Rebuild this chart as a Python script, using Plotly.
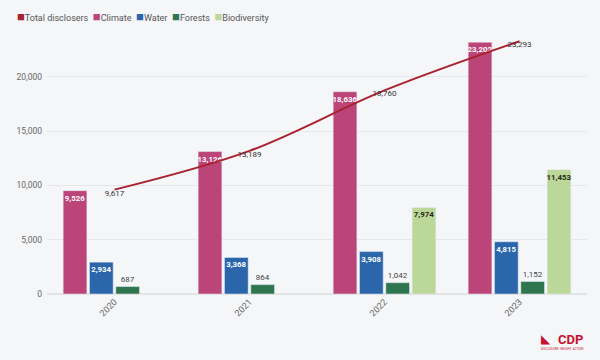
import plotly.graph_objects as go

years = ["2020", "2021", "2022", "2023"]
total_disclosers = [9617, 13189, 18760, 23293]
climate = [9526, 13126, 18636, 23202]
water = [2934, 3368, 3908, 4815]
forests = [687, 864, 1042, 1152]
biodiversity = [None, None, 7974, 11453]
legend_names = ["Total disclosers", "Climate", "Water", "Forests", "Biodiversity"]

C_TOTAL = "#a8232f"
C_CLIMATE = "#bb4479"
C_WATER = "#2b66ab"
C_FOREST = "#2f7650"
C_BIO = "#bcd79a"
BG = "#f5f6f8"
FONT = "Roboto"

def fmt(vals):
    return [f"{v:,}" if v is not None else "" for v in vals]

fig = go.Figure()

inside = dict(textposition="inside", insidetextanchor="end", textangle=0, constraintext="none")
fig.add_trace(go.Bar(x=years, y=climate, name="Climate", marker_color=C_CLIMATE,
                     text=fmt(climate), **inside,
                     textfont=dict(color="white", size=7.8, family=FONT, weight="bold")))
fig.add_trace(go.Bar(x=years, y=water, name="Water", marker_color=C_WATER,
                     text=fmt(water), **inside,
                     textfont=dict(color="white", size=7.8, family=FONT, weight="bold")))
fig.add_trace(go.Bar(x=years, y=forests, name="Forests", marker_color=C_FOREST,
                     text=fmt(forests), textposition="outside", cliponaxis=False, textangle=0,
                     constraintext="none",
                     textfont=dict(color="#444444", size=8, family=FONT)))
fig.add_trace(go.Bar(x=years, y=biodiversity, name="Biodiversity", marker_color=C_BIO,
                     text=fmt(biodiversity), **inside,
                     textfont=dict(color="#1f2a12", size=7.8, family=FONT, weight="bold")))

fig.add_trace(go.Scatter(x=years, y=total_disclosers, name="Total disclosers",
                         mode="lines+text", line=dict(color=C_TOTAL, width=2, shape="spline"),
                         text=fmt(total_disclosers), textposition="bottom center",
                         textfont=dict(color="#333333", size=8, family=FONT),
                         cliponaxis=False))

fig.update_layout(
    width=600, height=360,
    paper_bgcolor=BG, plot_bgcolor=BG,
    margin=dict(l=47, r=13, t=30, b=66),
    barmode="group", bargap=0.22, bargroupgap=0.1,
    font=dict(family=FONT, size=8, color="#666666"),
    showlegend=False,
    xaxis=dict(type="category", tickangle=-45, showgrid=False, showline=False, automargin=False,
               tickfont=dict(size=9, color="#666666"), ticks=""),
    yaxis=dict(range=[0, 24330], tickvals=[0, 5000, 10000, 15000, 20000], automargin=False,
               tickformat=",d", gridcolor="#e6e7ea", zeroline=True, zerolinecolor="#e2e3e6",
               showline=False, ticklabelstandoff=4, tickfont=dict(size=8.5, color="#666666")),
)

# plot area px x 47..587, y 30..294
def px(xp):
    return (xp - 47) / 540
def py(yp):
    return (294 - yp) / 264

# legend drawn as a single line of text with coloured squares
legend_colors = [C_TOTAL, C_CLIMATE, C_WATER, C_FOREST, C_BIO]
legend_html = "\u2002".join(
    f"<span style='color:{c};font-size:13px'>■</span><span style='color:#555555'>{n}</span>"
    for n, c in zip(legend_names, legend_colors))
fig.add_annotation(x=px(15), y=py(16), xref="paper", yref="paper",
                   xanchor="left", yanchor="middle", text=legend_html, showarrow=False,
                   font=dict(size=9, family=FONT))

# CDP logo text
fig.add_annotation(x=px(585), y=py(339), xref="paper", yref="paper",
                   xanchor="right", yanchor="middle", text="<b>CDP</b>", showarrow=False,
                   font=dict(size=13, color="#c8102e", family=FONT))
fig.add_annotation(x=px(553), y=py(339), xref="paper", yref="paper",
                   xanchor="right", yanchor="middle", text="<b>◣</b>", showarrow=False,
                   font=dict(size=12, color="#c8102e", family="DejaVu Sans"))
fig.add_annotation(x=px(585), y=py(349), xref="paper", yref="paper",
                   xanchor="right", yanchor="middle", text="DISCLOSURE  INSIGHT  ACTION", showarrow=False,
                   font=dict(size=3, color="#c8102e", family=FONT))

fig.write_html("out.html", config={"displayModeBar": False},
               post_script=f"document.body.style.margin='0';document.body.style.background='{BG}';")
